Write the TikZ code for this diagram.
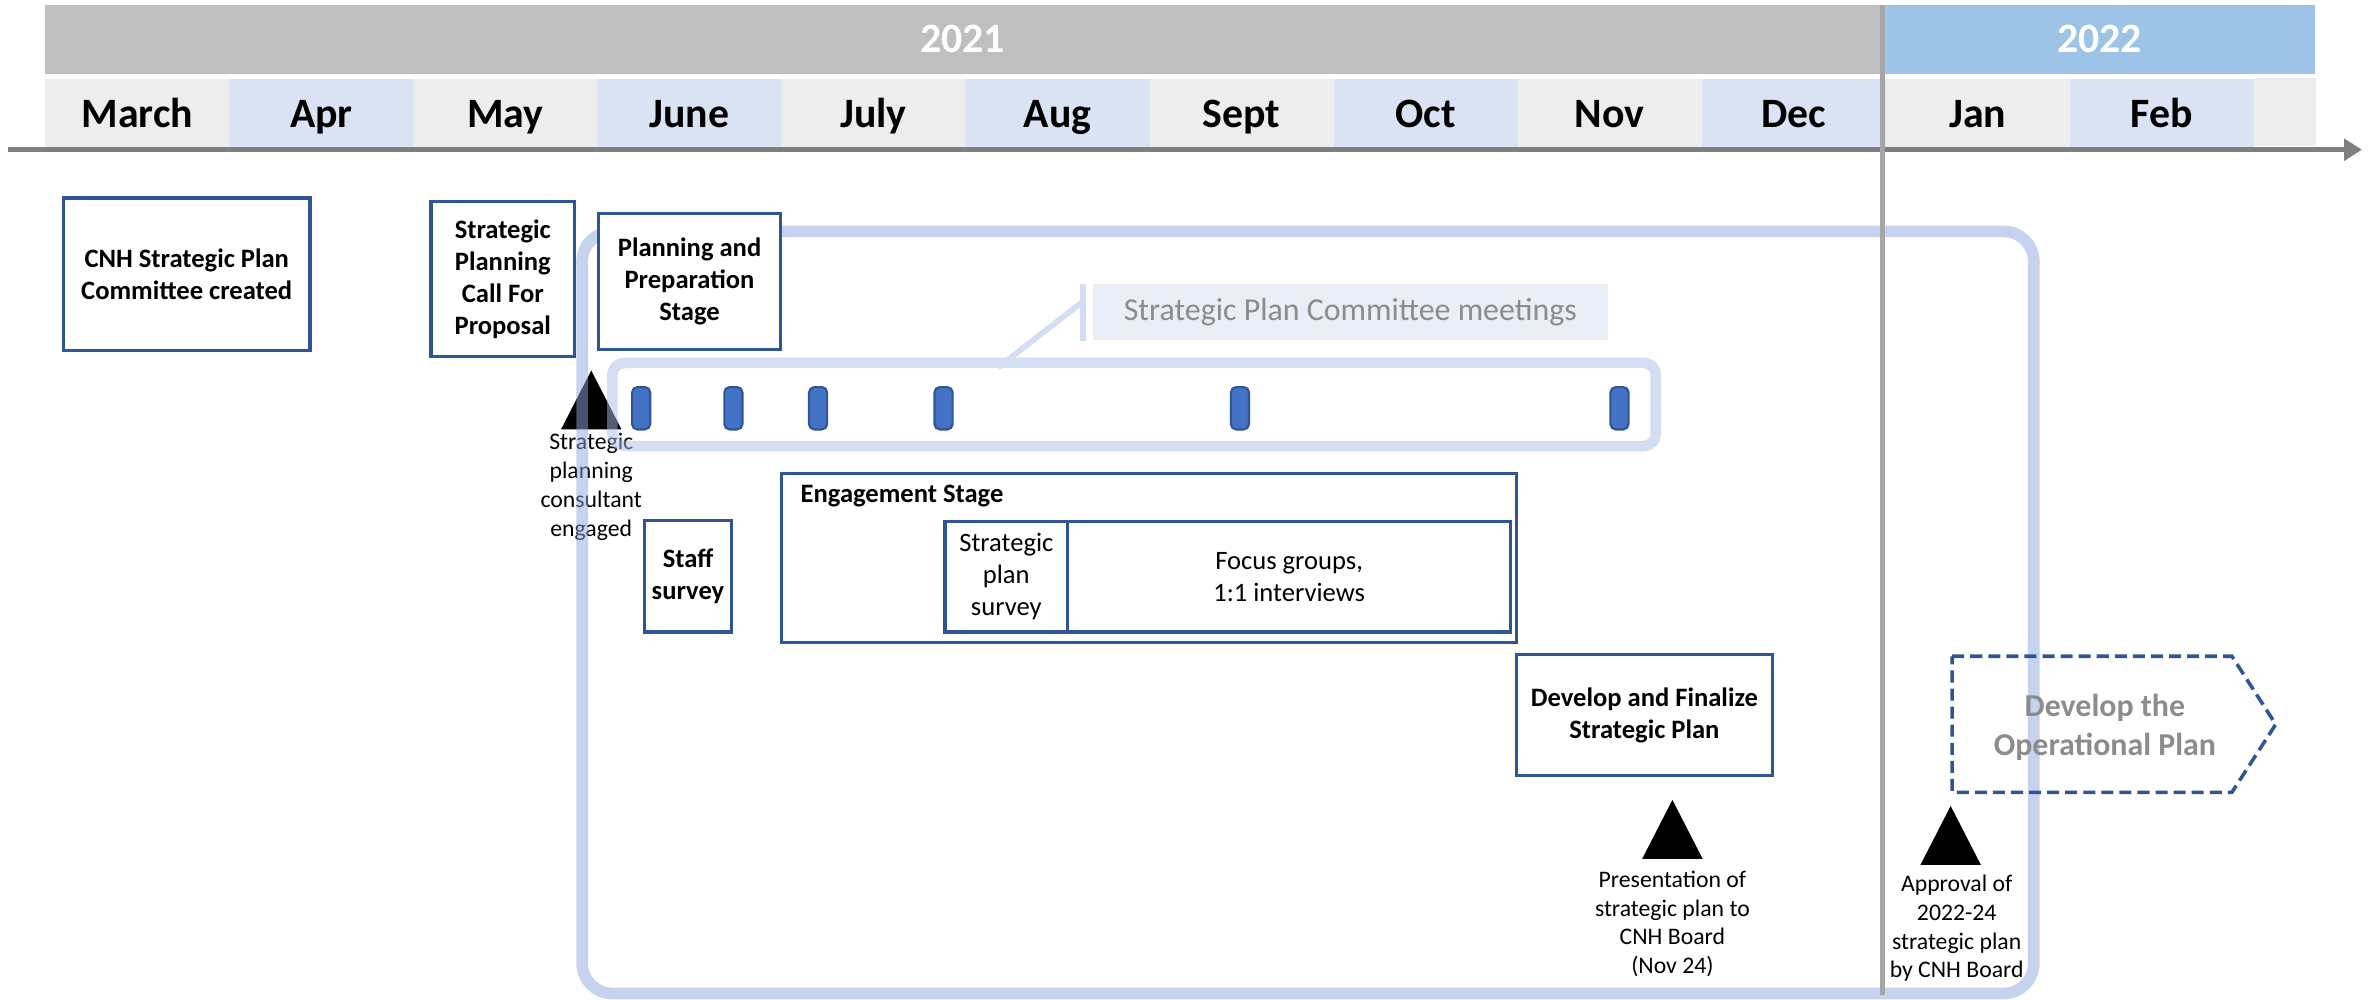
\documentclass[tikz,border=0pt]{standalone}
\usepackage{fontspec}
\setmainfont{Carlito}
\usetikzlibrary{arrows.meta}

\definecolor{yeargray}{HTML}{BFBFBF}
\definecolor{yearblue}{HTML}{9DC3E6}
\definecolor{monthgray}{HTML}{EDEDED}
\definecolor{monthblue}{HTML}{DAE3F3}
\definecolor{axisgray}{HTML}{7F7F7F}
\definecolor{divgray}{HTML}{A6A6A6}
\definecolor{boxblue}{HTML}{2F5597}
\definecolor{markblue}{HTML}{4472C4}
\definecolor{frameblue}{HTML}{8BA7DD}
\definecolor{groupblue}{HTML}{A7BDE5}
\definecolor{callfill}{HTML}{E9EEF7}
\definecolor{softgray}{HTML}{8C8C8C}

\newcommand\headfont{\fontsize{11.8}{14}\selectfont\bfseries}
\newcommand\boxfont{\fontsize{7.5}{9}\selectfont\bfseries}
\newcommand\plainfont{\fontsize{7.5}{9}\selectfont}
\newcommand\notefont{\fontsize{6.7}{8.1}\selectfont}

\begin{document}
\begin{tikzpicture}[x=0.015cm, y=-0.015cm,
    year/.style={minimum height=0.69cm, inner sep=0, text height=7.6pt, text depth=0pt,
      text=white, font=\headfont},
    month/.style={minimum width=1.8255cm, minimum height=0.675cm, inner sep=0,
      text height=8.5pt, text depth=0pt, font=\headfont},
    stagebox/.style={draw=boxblue, line width=0.9pt, fill=white, inner sep=0, align=center, font=\boxfont},
    subbox/.style={stagebox, font=\plainfont},
    note/.style={align=center, inner sep=0, font=\notefont},
    meeting/.style={draw=boxblue, fill=markblue, line width=0.6pt, rounded corners=1.5pt,
      minimum width=0.18cm, minimum height=0.42cm, inner sep=0},
  ]
  \useasboundingbox (0,0) rectangle (1568,661);

  % years and months
  \node[year, fill=yeargray, minimum width=18.195cm] (y2021) at (636.5,26) {2021};
  \node[year, fill=yearblue, minimum width=4.275cm] (y2022) at (1388.5,26) {2022};
  \foreach \m/\c [count=\i from 0] in {March/monthgray, Apr/monthblue, May/monthgray,
      June/monthblue, July/monthgray, Aug/monthblue, Sept/monthgray, Oct/monthblue,
      Nov/monthgray, Dec/monthblue, Jan/monthgray, Feb/monthblue}
    \node[month, fill=\c] (\m) at ({90.85+121.7*\i},74.5) {\m};
  \fill[monthgray] (Feb.north east) rectangle ++(41,45);
  \draw[axisgray, line width=1.3pt, -{Triangle[length=5pt, width=6pt]}] (5,99) -- (1562,99);

  % milestones
  \foreach \n/\x/\y in {t1/391/245, t2/1106/529, t3/1290/533}
    \fill (\x,\y) coordinate (\n) -- ++(20,39) -- ++(-40,0) -- cycle;
  \node[note] (consult) at (391,322) {Strategic\\planning\\consultant\\engaged};
  \node[note] (present) at (1106,611) {Presentation of\\strategic plan to\\CNH Board\\(Nov 24)};
  \node[note] (approve) at (1294,614) {Approval of\\2022-24\\strategic plan\\by CNH Board};

  % project frame and meeting row
  \draw[frameblue, line width=3.3pt, rounded corners=0.3cm, draw opacity=0.5] (385,153) rectangle (1345,657);
  \draw[groupblue, line width=3pt, rounded corners=0.12cm, draw opacity=0.5] (405,240) rectangle (1095,295);

  \node[fill=callfill, text=softgray, font=\fontsize{9}{11}\selectfont, minimum width=5.115cm,
    minimum height=0.555cm, inner sep=0] (cmtg) at (893,206.5) {Strategic Plan Committee meetings};
  \coordinate (ctip) at (660,243);
  \draw[groupblue!50, line width=1.6pt] ([xshift=-0.09cm]cmtg.north west) -- ([xshift=-0.09cm]cmtg.south west);
  \draw[groupblue!50, line width=1.6pt] ([xshift=-0.09cm, yshift=-0.18cm]cmtg.north west) -- (ctip);

  \draw[divgray, line width=1.2pt] (1245,3) -- (1245,658);

  % stages
  \node[stagebox, minimum width=2.445cm, minimum height=1.515cm] (cnh) at (123.5,181.5) {CNH Strategic Plan\\Committee created};
  \node[stagebox, minimum width=1.425cm, minimum height=1.545cm] (cfp) at (332.5,184.5) {Strategic\\Planning\\Call For\\Proposal};
  \node[stagebox, minimum width=1.8cm, minimum height=1.35cm] (prep) at (456,186) {Planning and\\Preparation\\Stage};
  \node[stagebox, minimum width=0.87cm, minimum height=1.11cm] (staff) at (455,381) {Staff\\survey};
  \node[stagebox, minimum width=7.29cm, minimum height=1.68cm] (engage) at (760,369) {};
  \node[font=\boxfont, anchor=west, inner sep=0] (engtitle) at (529,328) {Engagement Stage};
  \node[subbox, minimum width=1.215cm, minimum height=1.095cm] (spsurvey) at (665.5,381.5) {Strategic\\plan\\survey};
  \node[subbox, minimum width=4.395cm, minimum height=1.095cm] (focus) at (852.5,381.5) {Focus groups,\\1:1 interviews};
  \node[stagebox, minimum width=2.535cm, minimum height=1.2cm] (final) at (1087.5,473) {Develop and Finalize\\Strategic Plan};

  \draw[boxblue, line width=1pt, dash pattern=on 3.4pt off 1.7pt]
    (1291,434) -- (1476,434) -- (1505,479) -- (1476,524) -- (1291,524) -- cycle;
  \node[font=\fontsize{9}{11}\selectfont\bfseries, text=softgray, align=center] (oper) at (1392,481) {Develop the\\Operational Plan};

  \foreach \x in {424,485,541,624,820,1071}
    \node[meeting] (mtg\x) at (\x,270) {};
\end{tikzpicture}
\end{document}
